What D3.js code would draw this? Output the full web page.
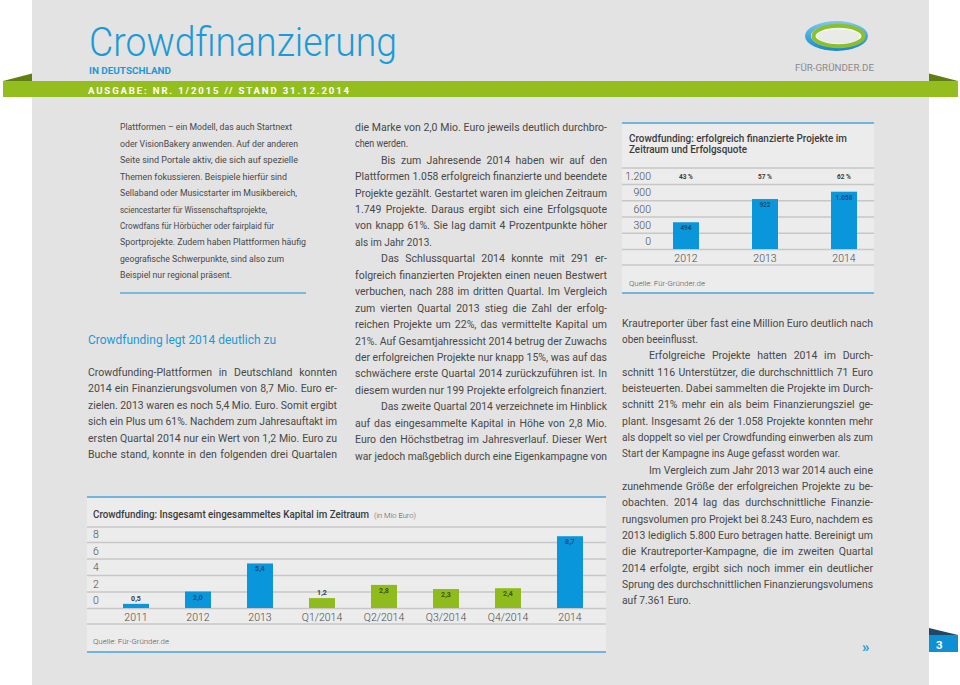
<!DOCTYPE html>
<html><head><meta charset="utf-8">
<script src="https://cdn.jsdelivr.net/npm/d3@7"></script>
<style>
body{margin:0;background:#fff}
svg{display:block}
text{font-family:Roboto,"Noto Sans",sans-serif}
</style>
</head><body>
<svg id="c" width="960" height="685"></svg>
<script>
// ---------- chart data ----------
const projectYears = ["2012", "2013", "2014"];
const projectCounts = [494, 922, 1058];
const projectCountLabels = ["494", "922", "1.058"];
const successRates = ["43 %", "57 %", "62 %"];
const projectTicks = [0, 300, 600, 900, 1200];
const projectTickLabels = ["0", "300", "600", "900", "1.200"];

const capitalPeriods = ["2011", "2012", "2013", "Q1/2014", "Q2/2014", "Q3/2014", "Q4/2014", "2014"];
const capitalValues = [0.5, 2.0, 5.4, 1.2, 2.8, 2.3, 2.4, 8.7];
const capitalValueLabels = ["0,5", "2,0", "5,4", "1,2", "2,8", "2,3", "2,4", "8,7"];
const capitalPeriodType = ["year", "year", "year", "quarter", "quarter", "quarter", "quarter", "year"];
const capitalTicks = [0, 2, 4, 6, 8];
const capitalTickLabels = ["0", "2", "4", "6", "8"];

// ---------- article text ----------
const leftTopLines = [
  "Plattformen – ein Modell, das auch Startnext",
  "oder VisionBakery anwenden. Auf der anderen",
  "Seite sind Portale aktiv, die sich auf spezielle",
  "Themen fokussieren. Beispiele hierfür sind",
  "Sellaband oder Musicstarter im Musikbereich,",
  "sciencestarter für Wissenschaftsprojekte,",
  "Crowdfans für Hörbücher oder fairplaid für",
  "Sportprojekte. Zudem haben Plattformen häufig",
  "geografische Schwerpunkte, sind also zum",
  "Beispiel nur regional präsent."
];
const leftTopEnds = [292, 298, 298, 287, 297, 267, 274, 306, 284, 232];
const leftHeading = "Crowdfunding legt 2014 deutlich zu";
const leftParaLines = [
  "Crowdfunding-Plattformen in Deutschland konnten",
  "2014 ein Finanzierungsvolumen von 8,7 Mio. Euro er-",
  "zielen. 2013 waren es noch 5,4 Mio. Euro. Somit ergibt",
  "sich ein Plus um 61%. Nachdem zum Jahresauftakt im",
  "ersten Quartal 2014 nur ein Wert von 1,2 Mio. Euro zu",
  "Buche stand, konnte in den folgenden drei Quartalen"
];
// [text, mode, end]  mode: j = justified, i = indented justified, r = ragged
const middleLines = [
  ["die Marke von 2,0 Mio. Euro jeweils deutlich durchbro-", "j"],
  ["chen werden.", "r", 408],
  ["Bis zum Jahresende 2014 haben wir auf den", "i"],
  ["Plattformen 1.058 erfolgreich finanzierte und beendete", "j"],
  ["Projekte gezählt. Gestartet waren im gleichen Zeitraum", "j"],
  ["1.749 Projekte. Daraus ergibt sich eine Erfolgsquote", "j"],
  ["von knapp 61%. Sie lag damit 4 Prozentpunkte höher", "j"],
  ["als im Jahr 2013.", "r", 432],
  ["Das Schlussquartal 2014 konnte mit 291 er-", "i"],
  ["folgreich finanzierten Projekten einen neuen Bestwert", "j"],
  ["verbuchen, nach 288 im dritten Quartal. Im Vergleich", "j"],
  ["zum vierten Quartal 2013 stieg die Zahl der erfolg-", "j"],
  ["reichen Projekte um 22%, das vermittelte Kapital um", "j"],
  ["21%. Auf Gesamtjahressicht 2014 betrug der Zuwachs", "j"],
  ["der erfolgreichen Projekte nur knapp 15%, was auf das", "j"],
  ["schwächere erste Quartal 2014 zurückzuführen ist. In", "j"],
  ["diesem wurden nur 199 Projekte erfolgreich finanziert.", "j"],
  ["Das zweite Quartal 2014 verzeichnete im Hinblick", "i"],
  ["auf das eingesammelte Kapital in Höhe von 2,8 Mio.", "j"],
  ["Euro den Höchstbetrag im Jahresverlauf. Dieser Wert", "j"],
  ["war jedoch maßgeblich durch eine Eigenkampagne von", "j"]
];
const rightLines = [
  ["Krautreporter über fast eine Million Euro deutlich nach", "j"],
  ["oben beeinflusst.", "r", 698],
  ["Erfolgreiche Projekte hatten 2014 im Durch-", "i"],
  ["schnitt 116 Unterstützer, die durchschnittlich 71 Euro", "j"],
  ["beisteuerten. Dabei sammelten die Projekte im Durch-", "j"],
  ["schnitt 21% mehr ein als beim Finanzierungsziel ge-", "j"],
  ["plant. Insgesamt 26 der 1.058 Projekte konnten mehr", "j"],
  ["als doppelt so viel per Crowdfunding einwerben als zum", "j"],
  ["Start  der Kampagne ins Auge gefasst worden war.", "r", 840],
  ["Im Vergleich zum Jahr 2013 war 2014 auch eine", "i"],
  ["zunehmende Größe der erfolgreichen Projekte zu be-", "j"],
  ["obachten. 2014 lag das durchschnittliche Finanzie-", "j"],
  ["rungsvolumen pro Projekt bei 8.243 Euro, nachdem es", "j"],
  ["2013 lediglich 5.800 Euro betragen hatte. Bereinigt um", "j"],
  ["die Krautreporter-Kampagne, die im zweiten Quartal", "j"],
  ["2014 erfolgte, ergibt sich noch immer ein deutlicher", "j"],
  ["Sprung des durchschnittlichen Finanzierungsvolumens", "j"],
  ["auf 7.361 Euro.", "r", 691]
];

// ---------- styles ----------
const C = {
  page: "#e3e3e3", box: "#ececec", green: "#94be1e", greenDark: "#5f7f12",
  blue: "#1a9ad8", barBlue: "#0a96da", barGreen: "#8fbb1c", grid: "#c7c7c7",
  text: "#484848", boxLine: "#4aa3d8"
};

const svg = d3.select("#c");

// page background
svg.append("rect").attr("x", 32).attr("y", 0).attr("width", 897).attr("height", 685).attr("fill", C.page);

// header band
svg.append("rect").attr("x", 3).attr("y", 81).attr("width", 955).attr("height", 16).attr("fill", C.green);
svg.append("polygon").attr("points", "3,81 32,73.5 32,81").attr("fill", C.greenDark);
svg.append("polygon").attr("points", "929,73.5 958,81 929,81").attr("fill", C.greenDark);

function fitText(sel, width, adj) {
  sel.attr("textLength", width).attr("lengthAdjust", adj || "spacingAndGlyphs");
}

const title = svg.append("text").attr("x", 89).attr("y", 55.5).attr("fill", C.blue)
  .attr("font-size", 40).attr("font-weight", 300).text("Crowdfinanzierung");
fitText(title, 308);
const sub = svg.append("text").attr("x", 89).attr("y", 73.5).attr("fill", C.blue)
  .attr("font-size", 8.4).attr("font-weight", 700).text("IN DEUTSCHLAND");
fitText(sub, 82);
const band = svg.append("text").attr("x", 88).attr("y", 94).attr("fill", "#fff")
  .attr("font-size", 9.6).attr("font-weight", 700).text("AUSGABE: NR. 1/2015 // STAND 31.12.2014");
fitText(band, 261, "spacing");

// logo
const logo = svg.append("g");
const grad = svg.append("defs").append("linearGradient").attr("id", "lg").attr("x1", 0).attr("y1", 0).attr("x2", 0).attr("y2", 1);
grad.append("stop").attr("offset", 0).attr("stop-color", "#7cc8ee");
grad.append("stop").attr("offset", 1).attr("stop-color", "#1388cc");
logo.append("ellipse").attr("cx", 836.5).attr("cy", 36).attr("rx", 31.5).attr("ry", 15).attr("fill", "url(#lg)");
logo.append("ellipse").attr("cx", 838).attr("cy", 36).attr("rx", 27).attr("ry", 11.5).attr("fill", "#f4f8f0");
logo.append("ellipse").attr("cx", 838.5).attr("cy", 36).attr("rx", 25).attr("ry", 10.2).attr("fill", "none").attr("stroke", "#8dbf2c").attr("stroke-width", 4);
logo.append("ellipse").attr("cx", 838.5).attr("cy", 36.5).attr("rx", 21).attr("ry", 7).attr("fill", "#e9ece6");
const lt = svg.append("text").attr("x", 795).attr("y", 71).attr("fill", "#8a8a8a")
  .attr("font-size", 8.6).text("FÜR-GRÜNDER.DE");
fitText(lt, 79);

// ---------- body text ----------
function justify(g, txt, x0, x1, y, size, mode, weight) {
  const s = txt.replace(/  +/g, " ");
  const t = g.append("text").attr("x", x0).attr("y", y).attr("font-size", size)
    .attr("fill", C.text).text(s);
  if (weight) t.attr("font-weight", weight);
  const w = t.node().getComputedTextLength();
  const target = x1 - x0;
  const spaces = (s.match(/ /g) || []).length;
  if (mode === "j" && w < target && spaces > 0) {
    t.style("word-spacing", ((target - w) / spaces) + "px");
  } else {
    t.attr("textLength", target).attr("lengthAdjust", "spacingAndGlyphs");
  }
  return t;
}

const body = svg.append("g");
leftTopLines.forEach((s, i) => justify(body, s, 120, leftTopEnds[i], 127 + i * 16.45 + 3.3, 9.5, "r"));
svg.append("line").attr("x1", 120).attr("x2", 306).attr("y1", 293).attr("y2", 293)
  .attr("stroke", "#7db9d9").attr("stroke-width", 2);
const lh = svg.append("text").attr("x", 88).attr("y", 343.5).attr("font-size", 13.5).attr("fill", C.blue).text(leftHeading);
fitText(lh, 188);
leftParaLines.forEach((s, i) => justify(body, s, 88, 337, 372 + i * 16.45 + 3.7, 10.5, "j"));

middleLines.forEach((d, i) => {
  const x0 = d[1] === "i" ? 381 : 355;
  const x1 = d[1] === "r" ? d[2] : 607;
  justify(body, d[0], x0, x1, 127 + i * 16.45 + 3.7, 10.5, d[1] === "r" ? "r" : "j");
});
rightLines.forEach((d, i) => {
  const x0 = d[1] === "i" ? 649 : 622;
  const x1 = d[1] === "r" ? d[2] : 873;
  justify(body, d[0], x0, x1, 323 + i * 16.32 + 3.7, 10.5, d[1] === "r" ? "r" : "j");
});

// ---------- chart 1: successful projects ----------
const c1 = svg.append("g");
c1.append("rect").attr("x", 622).attr("y", 123).attr("width", 252).attr("height", 170).attr("fill", C.box);
[123, 293].forEach(y => c1.append("line").attr("x1", 622).attr("x2", 874).attr("y1", y).attr("y2", y)
  .attr("stroke", C.boxLine).attr("stroke-width", 1.6));
const t1a = c1.append("text").attr("x", 629).attr("y", 141.5).attr("font-size", 10).attr("font-weight", 500)
  .attr("fill", "#3b3b3b").text("Crowdfunding: erfolgreich finanzierte Projekte im");
fitText(t1a, 218);
const t1b = c1.append("text").attr("x", 629).attr("y", 152.5).attr("font-size", 10).attr("font-weight", 500)
  .attr("fill", "#3b3b3b").text("Zeitraum und Erfolgsquote");
fitText(t1b, 118);
[168, 265].forEach(y => c1.append("line").attr("x1", 622).attr("x2", 874).attr("y1", y).attr("y2", y)
  .attr("stroke", C.grid).attr("stroke-width", 1.5));

const y1 = d3.scaleLinear().domain([0, 1200]).range([249, 184]);
const x1 = d3.scaleBand().domain(projectYears).range([646.5, 883.5])
  .paddingInner(1 - 26 / 79).paddingOuter((1 - 26 / 79) / 2);

const ax1 = c1.append("g").attr("transform", "translate(874,0)")
  .call(d3.axisLeft(y1).tickValues(projectTicks).tickSize(252)
    .tickFormat((d, i) => projectTickLabels[i]));
ax1.select(".domain").remove();
ax1.selectAll(".tick line").attr("stroke", C.grid).attr("stroke-width", 1.5);
ax1.selectAll(".tick text").attr("x", 651 - 874).attr("dy", -4.5).attr("font-size", 10.5)
  .attr("font-weight", 300).attr("fill", "#4a4a4a").attr("font-family", "Roboto");

c1.selectAll(".bar").data(projectCounts).join("rect").attr("class", "bar")
  .attr("x", (d, i) => x1(projectYears[i])).attr("width", x1.bandwidth())
  .attr("y", d => y1(d)).attr("height", d => y1(0) - y1(d)).attr("fill", C.barBlue);
c1.selectAll(".vl").data(projectCounts).join("text").attr("class", "vl")
  .attr("x", (d, i) => x1(projectYears[i]) + x1.bandwidth() / 2).attr("y", d => y1(d) + 8)
  .attr("text-anchor", "middle").attr("font-size", 6.5).attr("font-weight", 700).attr("fill", "#1c4d78")
  .text((d, i) => projectCountLabels[i]);
c1.selectAll(".pct").data(successRates).join("text").attr("class", "pct")
  .attr("x", (d, i) => x1(projectYears[i]) + x1.bandwidth() / 2).attr("y", 178.5)
  .attr("text-anchor", "middle").attr("font-size", 6.5).attr("font-weight", 700).attr("fill", "#3a3a3a")
  .text(d => d);
const xa1 = c1.append("g").attr("transform", "translate(0,249)")
  .call(d3.axisBottom(x1).tickSize(0).tickPadding(0));
xa1.select(".domain").remove();
xa1.selectAll("text").attr("y", 12.5).attr("dy", 0).attr("font-size", 10.5).attr("font-weight", 300)
  .attr("fill", "#4a4a4a").attr("font-family", "Roboto");
const q1 = c1.append("text").attr("x", 629).attr("y", 286).attr("font-size", 8).attr("font-weight", 300)
  .attr("fill", "#555").text("Quelle: Für-Gründer.de");
fitText(q1, 76);

// ---------- chart 2: capital ----------
const c2 = svg.append("g");
c2.append("rect").attr("x", 87).attr("y", 497).attr("width", 519).attr("height", 155).attr("fill", C.box);
[497, 652].forEach(y => c2.append("line").attr("x1", 87).attr("x2", 606).attr("y1", y).attr("y2", y)
  .attr("stroke", C.boxLine).attr("stroke-width", 1.6));
const t2 = c2.append("text").attr("x", 93).attr("y", 517.5).attr("font-size", 10).attr("font-weight", 500)
  .attr("fill", "#3b3b3b").text("Crowdfunding: Insgesamt eingesammeltes Kapital im Zeitraum");
fitText(t2, 276);
const t2b = c2.append("text").attr("x", 374).attr("y", 517.5).attr("font-size", 7.5).attr("font-weight", 300)
  .attr("fill", "#555").text("(in Mio Euro)");
fitText(t2b, 42);
[527, 624].forEach(y => c2.append("line").attr("x1", 87).attr("x2", 606).attr("y1", y).attr("y2", y)
  .attr("stroke", C.grid).attr("stroke-width", 1.5));

const y2 = d3.scaleLinear().domain([0, 8]).range([608, 542]);
const x2 = d3.scaleBand().domain(capitalPeriods).range([105, 601])
  .paddingInner(1 - 26 / 62).paddingOuter((1 - 26 / 62) / 2);
const color2 = d3.scaleOrdinal().domain(["year", "quarter"]).range([C.barBlue, C.barGreen]);
const label2 = d3.scaleOrdinal().domain(["year", "quarter"]).range(["#1c4d78", "#3f5512"]);

const ax2 = c2.append("g").attr("transform", "translate(606,0)")
  .call(d3.axisLeft(y2).tickValues(capitalTicks).tickSize(519)
    .tickFormat((d, i) => capitalTickLabels[i]));
ax2.select(".domain").remove();
ax2.selectAll(".tick line").attr("stroke", C.grid).attr("stroke-width", 1.5);
ax2.selectAll(".tick text").attr("x", 93 - 606).attr("text-anchor", "start").attr("dy", -4.5)
  .attr("font-size", 10.5).attr("font-weight", 300).attr("fill", "#4a4a4a").attr("font-family", "Roboto");

c2.selectAll(".bar").data(capitalValues).join("rect").attr("class", "bar")
  .attr("x", (d, i) => x2(capitalPeriods[i])).attr("width", x2.bandwidth())
  .attr("y", d => y2(d)).attr("height", d => y2(0) - y2(d))
  .attr("fill", (d, i) => color2(capitalPeriodType[i]));
c2.selectAll(".vl").data(capitalValues).join("text").attr("class", "vl")
  .attr("x", (d, i) => x2(capitalPeriods[i]) + x2.bandwidth() / 2)
  .attr("y", d => (y2(0) - y2(d) < 10) ? y2(d) - 3 : y2(d) + 8)
  .attr("text-anchor", "middle").attr("font-size", 7).attr("font-weight", 700)
  .attr("fill", (d, i) => (y2(0) - y2(d) < 10) ? "#3a3a3a" : label2(capitalPeriodType[i]))
  .text((d, i) => capitalValueLabels[i]);
const xa2 = c2.append("g").attr("transform", "translate(0,608)")
  .call(d3.axisBottom(x2).tickSize(0).tickPadding(0));
xa2.select(".domain").remove();
xa2.selectAll("text").attr("y", 12.5).attr("dy", 0).attr("font-size", 10.5).attr("font-weight", 300)
  .attr("fill", "#4a4a4a").attr("font-family", "Roboto");
const q2 = c2.append("text").attr("x", 93).attr("y", 644).attr("font-size", 8).attr("font-weight", 300)
  .attr("fill", "#555").text("Quelle: Für-Gründer.de");
fitText(q2, 76);

// ---------- footer ----------
svg.append("text").attr("x", 862).attr("y", 652).attr("font-size", 15).attr("font-weight", 700)
  .attr("fill", C.blue).text("»");
svg.append("polygon").attr("points", "929,628 958,635 929,635").attr("fill", "#1d4868");
svg.append("rect").attr("x", 929).attr("y", 635).attr("width", 29).attr("height", 17).attr("fill", "#0f8fd4");
svg.append("text").attr("x", 936).attr("y", 648.5).attr("font-size", 11.5).attr("font-weight", 700)
  .attr("fill", "#fff").text("3");
</script>
</body></html>
